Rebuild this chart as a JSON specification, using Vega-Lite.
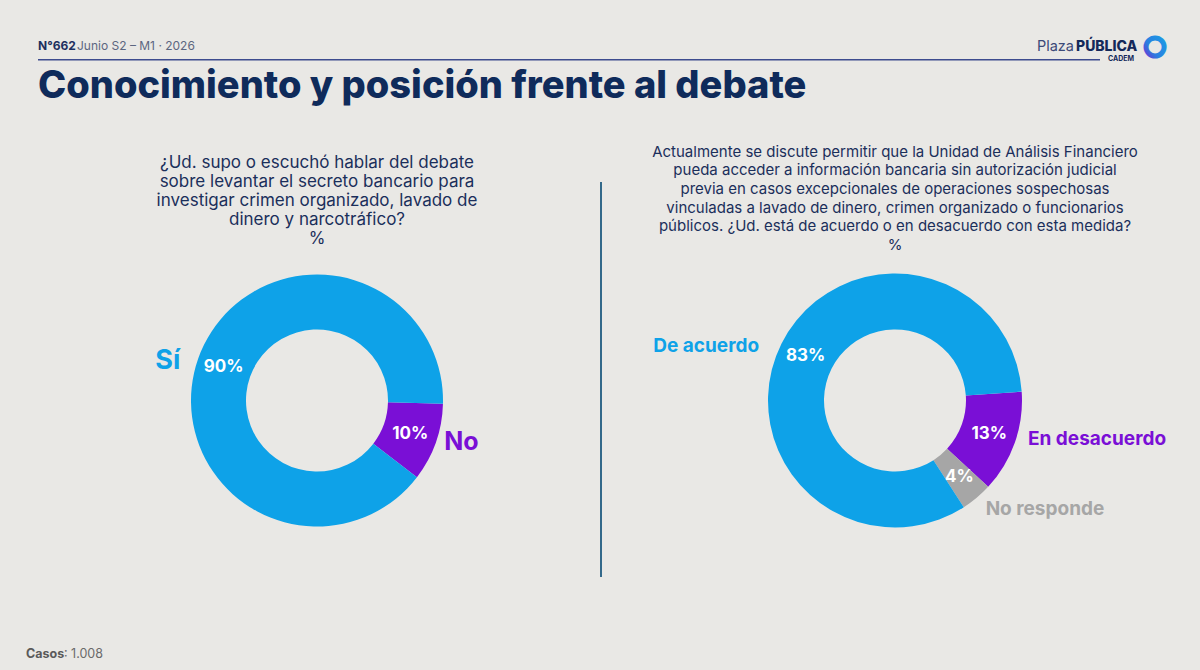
{
  "$schema": "https://vega.github.io/schema/vega-lite/v6.json",
  "background": "#e9e8e5",
  "padding": {"left": 26, "right": 16, "top": 36, "bottom": 10},
  "config": {
    "view": {"stroke": null},
    "font": "Inter",
    "title": {"font": "Inter"},
    "text": {"font": "Inter"}
  },
  "datasets": {
    "polls": [
      {"q": "conoce", "cat": "No", "share": 0.10, "ord": 1},
      {"q": "conoce", "cat": "Sí", "share": 0.90, "ord": 2},
      {"q": "acuerdo", "cat": "En desacuerdo", "share": 0.13, "ord": 1},
      {"q": "acuerdo", "cat": "No responde", "share": 0.04, "ord": 2},
      {"q": "acuerdo", "cat": "De acuerdo", "share": 0.83, "ord": 3}
    ],
    "blank": [{}]
  },
  "spacing": 38,
  "vconcat": [
    {
      "width": 1062,
      "height": 1.5,
      "view": {"fill": "#3d4b8e", "stroke": null},
      "title": {"text": "Conocimiento y posición frente al debate", "orient": "bottom", "anchor": "start", "frame": "group", "fontSize": 38, "fontWeight": 800, "color": "#0f2b5b", "offset": 6},
      "data": {"name": "blank"},
      "layer": [
        {"mark": {"type": "text", "text": "N°662", "align": "left", "baseline": "middle", "fontSize": 12, "fontWeight": "bold", "color": "#1d2f5e", "dy": -14}, "encoding": {"x": {"value": 0}}},
        {"mark": {"type": "text", "text": "Junio S2 – M1 · 2026", "align": "left", "baseline": "middle", "fontSize": 12, "color": "#5c6680", "dx": 39, "dy": -14}, "encoding": {"x": {"value": 0}}},
        {"mark": {"type": "text", "text": "Plaza", "align": "right", "baseline": "middle", "fontSize": 14.5, "color": "#3c4a78", "dx": -26, "dy": -13}, "encoding": {"x": {"value": "width"}}},
        {"mark": {"type": "text", "text": "PÚBLICA", "align": "left", "baseline": "middle", "fontSize": 14, "fontWeight": 800, "color": "#14295a", "dx": -24, "dy": -13}, "encoding": {"x": {"value": "width"}}},
        {"mark": {"type": "text", "text": "CADEM", "align": "left", "baseline": "middle", "fontSize": 7, "fontWeight": "bold", "color": "#14295a", "dx": 8, "dy": -1}, "encoding": {"x": {"value": "width"}}},
        {"mark": {"type": "text", "text": "●", "align": "center", "baseline": "middle", "fontSize": 24, "fillOpacity": 0, "strokeWidth": 5, "stroke": {"gradient": "linear", "x1": 1, "y1": 0, "x2": 0, "y2": 1, "stops": [{"offset": 0, "color": "#1aa0e6"}, {"offset": 0.6, "color": "#2a7fe0"}, {"offset": 1, "color": "#7a22d0"}]}, "dx": 55, "dy": -11}, "encoding": {"x": {"value": "width"}}}
      ]
    },
    {
      "spacing": 28,
      "vconcat": [
        {
          "spacing": 4,
          "bounds": "flush",
          "hconcat": [
            {
              "width": 558,
              "height": 437,
              "title": {
                "text": ["¿Ud. supo o escuchó hablar del debate", "sobre levantar el secreto bancario para", "investigar crimen organizado, lavado de", "dinero y narcotráfico?", "%"],
                "anchor": "middle", "frame": "group", "fontSize": 17, "fontWeight": "normal", "color": "#1b2f5b", "lineHeight": 19, "offset": -66
              },
              "data": {"name": "polls"},
              "transform": [{"filter": "datum.q === 'conoce'"}],
              "encoding": {
                "theta": {"field": "share", "type": "quantitative", "stack": true, "scale": {"range": [1.597, 7.880]}},
                "order": {"field": "ord", "type": "quantitative"},
                "color": {"field": "cat", "type": "nominal", "scale": {"domain": ["Sí", "No", "De acuerdo", "En desacuerdo", "No responde"], "range": ["#0ea2e8", "#7a0fd6", "#0ea2e8", "#7a0fd6", "#a6a6a6"]}, "legend": null}
              },
              "layer": [
                {"mark": {"type": "arc", "innerRadius": 71, "outerRadius": 126}},
                {"mark": {"type": "text", "radius": 99, "fontSize": 17, "fontWeight": "bold", "baseline": "middle"}, "encoding": {"text": {"field": "share", "type": "quantitative", "format": ".0%"}, "color": {"value": "#ffffff"}}},
                {"mark": {"type": "text", "radius": 145, "align": "right", "baseline": "middle", "dy": 9, "fontSize": 27, "fontWeight": "bold"}, "encoding": {"text": {"condition": {"test": "datum.cat === 'Sí'", "field": "cat"}, "value": ""}}},
                {"mark": {"type": "text", "radius": 135, "align": "left", "baseline": "middle", "dy": -4, "fontSize": 25, "fontWeight": "bold"}, "encoding": {"text": {"condition": {"test": "datum.cat === 'No'", "field": "cat"}, "value": ""}}}
              ]
            },
            {
              "width": 2,
              "height": 395,
              "view": {"fill": "#33698a", "stroke": null},
              "data": {"name": "blank"},
              "mark": {"type": "text", "text": ""}
            },
            {
              "width": 578,
              "height": 437,
              "title": {
                "text": ["Actualmente se discute permitir que la Unidad de Análisis Financiero", "pueda acceder a información bancaria sin autorización judicial", "previa en casos excepcionales de operaciones sospechosas", "vinculadas a lavado de dinero, crimen organizado o funcionarios", "públicos. ¿Ud. está de acuerdo o en desacuerdo con esta medida?", "%"],
                "anchor": "middle", "frame": "group", "fontSize": 15, "fontWeight": "normal", "color": "#1b2f5b", "lineHeight": 18.7, "offset": -71
              },
              "data": {"name": "polls"},
              "transform": [{"filter": "datum.q === 'acuerdo'"}],
              "encoding": {
                "theta": {"field": "share", "type": "quantitative", "stack": true, "scale": {"range": [1.501, 7.784]}},
                "order": {"field": "ord", "type": "quantitative"},
                "color": {"field": "cat", "type": "nominal", "scale": {"domain": ["Sí", "No", "De acuerdo", "En desacuerdo", "No responde"], "range": ["#0ea2e8", "#7a0fd6", "#0ea2e8", "#7a0fd6", "#a6a6a6"]}, "legend": null}
              },
              "layer": [
                {"mark": {"type": "arc", "innerRadius": 71, "outerRadius": 127}},
                {"mark": {"type": "text", "radius": 100, "fontSize": 17, "fontWeight": "bold", "baseline": "middle"}, "encoding": {"text": {"field": "share", "type": "quantitative", "format": ".0%"}, "color": {"value": "#ffffff"}}},
                {"mark": {"type": "text", "radius": 152, "align": "right", "baseline": "middle", "dy": 14, "fontSize": 19, "fontWeight": "bold"}, "encoding": {"text": {"condition": {"test": "datum.cat === 'De acuerdo'", "field": "cat"}, "value": ""}}},
                {"mark": {"type": "text", "radius": 141, "align": "left", "baseline": "middle", "dy": -8, "fontSize": 19, "fontWeight": "bold"}, "encoding": {"text": {"condition": {"test": "datum.cat === 'En desacuerdo'", "field": "cat"}, "value": ""}}},
                {"mark": {"type": "text", "radius": 141, "align": "left", "baseline": "middle", "dy": 0, "fontSize": 19, "fontWeight": "bold"}, "encoding": {"text": {"condition": {"test": "datum.cat === 'No responde'", "field": "cat"}, "value": ""}}}
              ]
            }
          ]
        },
        {
          "width": 200,
          "height": 1,
          "data": {"name": "blank"},
          "layer": [
            {"mark": {"type": "text", "text": "Casos", "align": "left", "baseline": "middle", "fontSize": 12.5, "fontWeight": "bold", "color": "#5a5a5a", "dx": -12}, "encoding": {"x": {"value": 0}}},
            {"mark": {"type": "text", "text": ": 1.008", "align": "left", "baseline": "middle", "fontSize": 12.5, "color": "#6a6a6a", "dx": 26}, "encoding": {"x": {"value": 0}}}
          ]
        }
      ]
    }
  ]
}
